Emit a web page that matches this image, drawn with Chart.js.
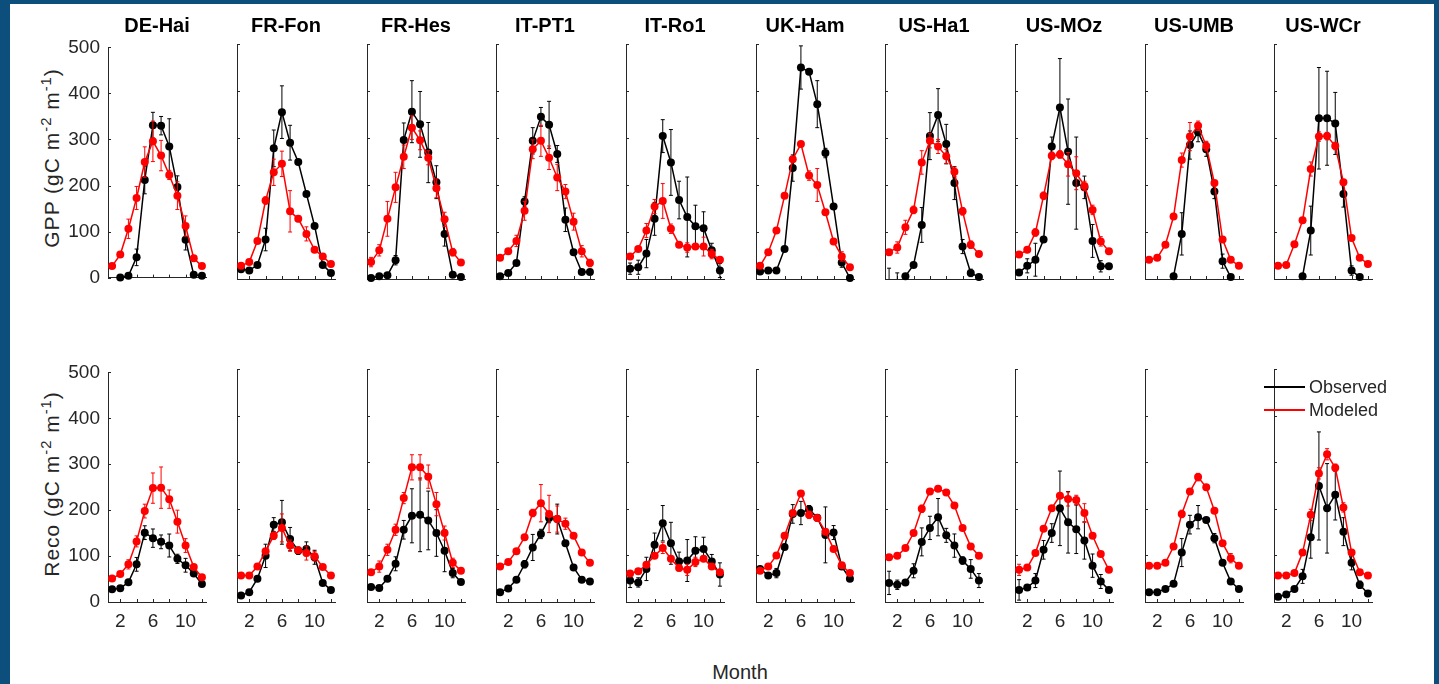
<!DOCTYPE html>
<html>
<head>
<meta charset="utf-8">
<script src="https://cdn.jsdelivr.net/npm/chart.js@4.4.1/dist/chart.umd.min.js"></script>
<style>
  body { margin: 0; background: #fff; }
  #fig { position: relative; width: 1439px; height: 684px; overflow: hidden; background: #fff;
         font-family: "Liberation Sans", Arial, Helvetica, sans-serif; color: #262626; }
  .frame { position: absolute; background: #0c4f7d; }
  canvas { position: absolute; }
  .title { position: absolute; width: 140px; text-align: center; font-weight: bold; font-size: 20px;
           line-height: 20px; color: #000; }
  .ylab { position: absolute; font-size: 21px; letter-spacing: 1px; white-space: nowrap;
          transform: translate(-50%, -50%) rotate(-90deg); }
  .ylab sup { font-size: 0.7em; vertical-align: 0.55em; line-height: 0; }
  .xlab { position: absolute; font-size: 20px; transform: translate(-50%, -50%); }
  .legline { position: absolute; height: 1.5px; width: 41px; }
  .legtext { position: absolute; font-size: 18px; line-height: 18px; transform: translateY(-50%); }
</style>
</head>
<body>
<div id="fig">
  <div class="frame" style="left:0;top:0;width:10px;height:684px"></div>
  <div class="frame" style="left:0;top:0;width:1439px;height:4px"></div>
  <div class="frame" style="left:1434px;top:0;width:5px;height:684px"></div>
  <div class="ylab" style="left:52px;top:158px">GPP (gC m<sup>-2</sup> m<sup>-1</sup>)</div>
  <div class="ylab" style="left:52px;top:484px">Reco (gC m<sup>-2</sup> m<sup>-1</sup>)</div>
  <div class="xlab" style="left:740px;top:672px">Month</div>
</div>
<script>
const sites = ['DE-Hai', 'FR-Fon', 'FR-Hes', 'IT-PT1', 'IT-Ro1', 'UK-Ham', 'US-Ha1', 'US-MOz', 'US-UMB', 'US-WCr'];
const months = [1, 2, 3, 4, 5, 6, 7, 8, 9, 10, 11, 12];
const xTicks = [2, 4, 6, 8, 10, 12];
const xLabels = [2, 6, 10];
const yTicks = [0, 100, 200, 300, 400, 500];
const seriesNames = ['Observed', 'Modeled'];
const seriesColors = ['#000000', '#ff0000'];

// GPP, one row per site, months 1..12
const gppObs = [
  [null, 0, 4, 44, 212, 331, 330, 285, 197, 82, 6, 4],
  [21, 18, 30, 84, 278, 355, 290, 249, 181, 113, 30, 13],
  [2, 6, 8, 40, 296, 356, 329, 269, 206, 96, 9, 4],
  [6, 13, 34, 165, 294, 345, 328, 266, 126, 57, 15, 15],
  [22, 25, 54, 128, 304, 248, 168, 132, 112, 108, 61, 18],
  [16, 18, 18, 64, 236, 450, 441, 372, 268, 154, 35, 2],
  [-5, -3, 6, 30, 115, 304, 349, 287, 204, 69, 13, 4],
  [14, 28, 41, 84, 282, 365, 271, 204, 195, 81, 27, 27],
  [null, null, null, 6, 96, 285, 312, 276, 186, 38, 4, null],
  [null, null, null, 6, 103, 342, 342, 331, 181, 18, 4, null]
];
const gppObsErr = [
  [0, 0, 0, 18, 30, 28, 20, 60, 24, 22, 0, 0],
  [0, 0, 0, 24, 39, 56, 37, 0, 0, 0, 0, 0],
  [0, 0, 0, 10, 36, 66, 70, 64, 35, 26, 0, 0],
  [0, 0, 0, 10, 28, 20, 50, 18, 25, 0, 0, 0],
  [12, 15, 30, 35, 35, 70, 40, 85, 45, 35, 15, 15],
  [0, 0, 0, 0, 28, 46, 0, 50, 10, 0, 10, 0],
  [28, 16, 0, 0, 37, 50, 56, 42, 35, 15, 8, 0],
  [0, 15, 35, 0, 20, 104, 112, 98, 24, 35, 12, 0],
  [0, 0, 0, 0, 45, 30, 20, 15, 15, 15, 0, 0],
  [0, 0, 0, 0, 52, 108, 100, 66, 28, 10, 0, 0]
];
const gppMod = [
  [25, 50, 106, 173, 251, 296, 265, 223, 178, 112, 42, 25],
  [28, 36, 81, 167, 227, 245, 144, 128, 96, 62, 48, 32],
  [36, 61, 128, 195, 260, 322, 295, 258, 193, 127, 57, 35],
  [45, 59, 81, 145, 276, 294, 258, 216, 186, 122, 59, 34],
  [48, 64, 103, 154, 166, 107, 73, 67, 69, 69, 53, 41],
  [28, 57, 103, 177, 255, 287, 220, 200, 142, 80, 48, 25],
  [57, 67, 110, 147, 248, 294, 282, 261, 228, 144, 73, 53],
  [52, 62, 99, 177, 262, 265, 244, 225, 198, 147, 80, 59],
  [41, 45, 73, 133, 253, 303, 326, 283, 204, 84, 41, 28],
  [28, 30, 74, 125, 234, 303, 304, 283, 206, 87, 45, 32]
];
const gppModErr = [
  [3, 5, 21, 25, 33, 44, 33, 10, 30, 22, 5, 3],
  [3, 3, 5, 8, 28, 27, 44, 6, 15, 5, 3, 3],
  [10, 12, 37, 32, 25, 25, 20, 15, 20, 15, 8, 3],
  [3, 5, 12, 20, 20, 33, 25, 28, 15, 18, 12, 8],
  [3, 5, 15, 15, 37, 10, 5, 10, 5, 20, 10, 3],
  [3, 3, 3, 3, 5, 5, 10, 35, 5, 5, 10, 3],
  [5, 12, 15, 8, 25, 15, 15, 15, 10, 8, 8, 5],
  [5, 5, 8, 8, 8, 8, 25, 35, 10, 10, 10, 5],
  [3, 3, 5, 5, 15, 30, 10, 10, 5, 5, 5, 3],
  [3, 3, 5, 5, 15, 10, 8, 8, 5, 5, 3, 3]
];

// Reco
const recoObs = [
  [28, 30, 43, 82, 151, 139, 131, 123, 94, 80, 62, 39],
  [14, 21, 50, 99, 166, 171, 135, 110, 114, 96, 41, 26],
  [32, 30, 50, 82, 155, 185, 187, 175, 148, 110, 62, 43],
  [21, 29, 48, 81, 117, 146, 180, 178, 126, 74, 48, 44],
  [46, 42, 71, 123, 169, 126, 87, 89, 110, 114, 87, 59],
  [71, 57, 62, 118, 189, 191, 199, 181, 144, 149, 76, 50],
  [41, 37, 42, 67, 129, 159, 182, 143, 121, 89, 71, 46],
  [26, 31, 46, 112, 148, 201, 171, 156, 132, 78, 44, 26],
  [21, 21, 28, 39, 106, 166, 182, 176, 137, 84, 44, 28],
  [11, 16, 28, 55, 139, 249, 201, 230, 151, 84, 37, 18]
];
const recoObsErr = [
  [3, 3, 5, 15, 15, 20, 15, 25, 10, 15, 5, 5],
  [3, 3, 5, 25, 15, 47, 25, 8, 15, 15, 5, 3],
  [3, 3, 5, 15, 20, 58, 79, 63, 50, 45, 10, 5],
  [3, 3, 5, 8, 28, 10, 10, 32, 5, 5, 3, 3],
  [15, 10, 25, 25, 38, 45, 20, 45, 30, 25, 15, 25],
  [5, 5, 10, 5, 20, 25, 8, 5, 60, 15, 5, 5],
  [25, 10, 5, 15, 30, 25, 40, 15, 25, 8, 20, 15],
  [22, 5, 15, 20, 20, 80, 66, 52, 40, 25, 15, 5],
  [3, 3, 5, 5, 30, 20, 25, 5, 10, 5, 3, 3],
  [3, 3, 5, 15, 45, 116, 96, 54, 30, 15, 8, 5]
];
const recoMod = [
  [51, 61, 82, 132, 198, 248, 249, 224, 175, 123, 76, 54],
  [57, 57, 76, 109, 142, 159, 121, 111, 105, 98, 75, 57],
  [64, 76, 112, 155, 223, 289, 289, 269, 210, 148, 84, 67],
  [76, 86, 109, 139, 191, 212, 189, 178, 168, 142, 106, 84],
  [61, 66, 80, 99, 116, 93, 73, 69, 86, 93, 76, 64],
  [67, 76, 100, 142, 191, 233, 187, 180, 151, 114, 79, 62],
  [96, 99, 116, 148, 200, 237, 243, 235, 207, 159, 119, 99],
  [69, 74, 105, 157, 201, 228, 221, 219, 191, 142, 103, 69],
  [78, 78, 84, 119, 189, 237, 268, 246, 196, 126, 94, 78],
  [57, 57, 62, 106, 187, 276, 317, 288, 203, 106, 64, 57]
];
const recoModErr = [
  [3, 5, 10, 12, 15, 33, 45, 20, 25, 15, 5, 3],
  [3, 3, 5, 5, 8, 30, 12, 5, 15, 10, 5, 3],
  [5, 12, 12, 12, 12, 27, 27, 25, 25, 15, 10, 5],
  [3, 3, 5, 5, 8, 40, 40, 28, 12, 5, 5, 3],
  [3, 3, 5, 5, 12, 5, 5, 12, 10, 5, 5, 3],
  [3, 3, 3, 3, 5, 5, 8, 5, 5, 5, 3, 3],
  [3, 3, 3, 3, 8, 5, 5, 5, 5, 5, 3, 3],
  [12, 5, 5, 5, 5, 5, 15, 10, 20, 5, 5, 5],
  [3, 3, 3, 3, 8, 5, 8, 5, 5, 5, 10, 3],
  [3, 3, 3, 5, 12, 12, 12, 8, 10, 5, 3, 3]
];

const AXIS = '#262626';
const FONT = '"Liberation Sans", Arial, sans-serif';

// MATLAB style ticks pointing into the plot
const inwardTicks = {
  id: 'inwardTicks',
  beforeDatasetsDraw(chart) {
    const { ctx, chartArea, scales: { x, y } } = chart;
    ctx.save();
    ctx.strokeStyle = AXIS;
    ctx.lineWidth = 1;
    ctx.beginPath();
    x.ticks.forEach(t => {
      const px = Math.round(x.getPixelForValue(t.value)) + 0.5;
      ctx.moveTo(px, chartArea.bottom);
      ctx.lineTo(px, chartArea.bottom - 3);
    });
    y.ticks.forEach(t => {
      const py = Math.round(y.getPixelForValue(t.value)) + 0.5;
      ctx.moveTo(chartArea.left, py);
      ctx.lineTo(chartArea.left + 3, py);
    });
    ctx.stroke();
    ctx.restore();
  }
};

const errorBars = {
  id: 'errorBars',
  afterDatasetDraw(chart, args) {
    const ds = chart.data.datasets[args.index];
    if (!ds.errors) return;
    const { ctx, chartArea, scales: { x, y } } = chart;
    ctx.save();
    ctx.beginPath();
    ctx.rect(chartArea.left - 10, chartArea.top - 10, chartArea.width + 20, chartArea.height + 10);
    ctx.clip();
    ctx.strokeStyle = ds.borderColor;
    ctx.lineWidth = 1;
    ctx.beginPath();
    ds.data.forEach((p, i) => {
      const e = ds.errors[i];
      if (p.y === null || !e) return;
      const px = x.getPixelForValue(p.x);
      const y1 = y.getPixelForValue(p.y + e);
      const y2 = y.getPixelForValue(p.y - e);
      ctx.moveTo(px, y1); ctx.lineTo(px, y2);
      ctx.moveTo(px - 2, y1); ctx.lineTo(px + 2, y1);
      ctx.moveTo(px - 2, y2); ctx.lineTo(px + 2, y2);
    });
    ctx.stroke();
    ctx.restore();
  }
};

const fig = document.getElementById('fig');

// values below zero sit outside the axes: no marker, no segment
const below = p => p && p.parsed && p.parsed.y < 0;

function series(name, color, vals, errs, order) {
  return {
    label: name,
    data: months.map((m, i) => ({ x: m, y: vals[i] })),
    errors: errs,
    borderColor: color,
    backgroundColor: color,
    borderWidth: 1.5,
    pointRadius: ctx => (ctx.raw && ctx.raw.y < 0) ? 0 : 4,
    pointBorderWidth: 0,
    segment: { borderColor: ctx => (below(ctx.p0) || below(ctx.p1)) ? 'rgba(0,0,0,0)' : undefined },
    spanGaps: false,
    clip: false,
    order: order
  };
}

function panel(row, col, obs, obsErr, mod, modErr) {
  const left = Math.round(107.7 + col * 129.6);
  const top = row === 0 ? 44 : 369;
  const w = 98;
  const h = row === 0 ? 235 : 233;
  const padL = col === 0 ? 50 : 10;
  const padT = 16, padR = 14;
  const padB = row === 0 ? 18 : 36;

  const cv = document.createElement('canvas');
  cv.width = padL + w + padR;
  cv.height = padT + h + padB;
  cv.style.width = cv.width + 'px';
  cv.style.height = cv.height + 'px';
  cv.style.left = (left - padL) + 'px';
  cv.style.top = (top - padT) + 'px';
  fig.appendChild(cv);

  new Chart(cv.getContext('2d'), {
    type: 'line',
    data: {
      datasets: [
        series(seriesNames[0], seriesColors[0], obs, obsErr, 2),
        series(seriesNames[1], seriesColors[1], mod, modErr, 1)
      ]
    },
    options: {
      responsive: false,
      maintainAspectRatio: false,
      devicePixelRatio: 1,
      animation: false,
      events: [],
      layout: { padding: { left: 0, top: padT, right: padR, bottom: 0 } },
      plugins: { legend: { display: false }, tooltip: { enabled: false } },
      scales: {
        x: {
          type: 'linear',
          min: 0.5,
          max: 12.5,
          afterBuildTicks: axis => { axis.ticks = xTicks.map(v => ({ value: v })); },
          afterFit: s => { s.height = padB; },
          grid: { display: false, drawTicks: false },
          border: { display: true, color: AXIS, width: 1 },
          ticks: {
            display: row === 1,
            autoSkip: false,
            maxRotation: 0,
            padding: 8,
            color: AXIS,
            font: { family: FONT, size: 19 },
            callback: v => xLabels.includes(v) ? String(v) : ''
          }
        },
        y: {
          min: 0,
          max: 500,
          afterBuildTicks: axis => { axis.ticks = yTicks.map(v => ({ value: v })); },
          afterFit: s => { s.width = padL; },
          grid: { display: false, drawTicks: false },
          border: { display: true, color: AXIS, width: 1 },
          ticks: {
            display: col === 0,
            autoSkip: false,
            padding: 8,
            color: AXIS,
            font: { family: FONT, size: 19 }
          }
        }
      }
    },
    plugins: [inwardTicks, errorBars]
  });

  if (row === 0) {
    const t = document.createElement('div');
    t.className = 'title';
    t.textContent = sites[col];
    t.style.left = (left + w / 2 - 70) + 'px';
    t.style.top = '15px';
    fig.appendChild(t);
  }
}

sites.forEach((s, c) => {
  panel(0, c, gppObs[c], gppObsErr[c], gppMod[c], gppModErr[c]);
  panel(1, c, recoObs[c], recoObsErr[c], recoMod[c], recoModErr[c]);
});

// legend inside the last Reco panel
seriesNames.forEach((name, i) => {
  const y = 387 + i * 23;
  const ln = document.createElement('div');
  ln.className = 'legline';
  ln.style.left = '1264px';
  ln.style.top = (y - 0.75) + 'px';
  ln.style.background = seriesColors[i];
  fig.appendChild(ln);
  const tx = document.createElement('div');
  tx.className = 'legtext';
  tx.style.left = '1309px';
  tx.style.top = y + 'px';
  tx.textContent = name;
  fig.appendChild(tx);
});
</script>
</body>
</html>
